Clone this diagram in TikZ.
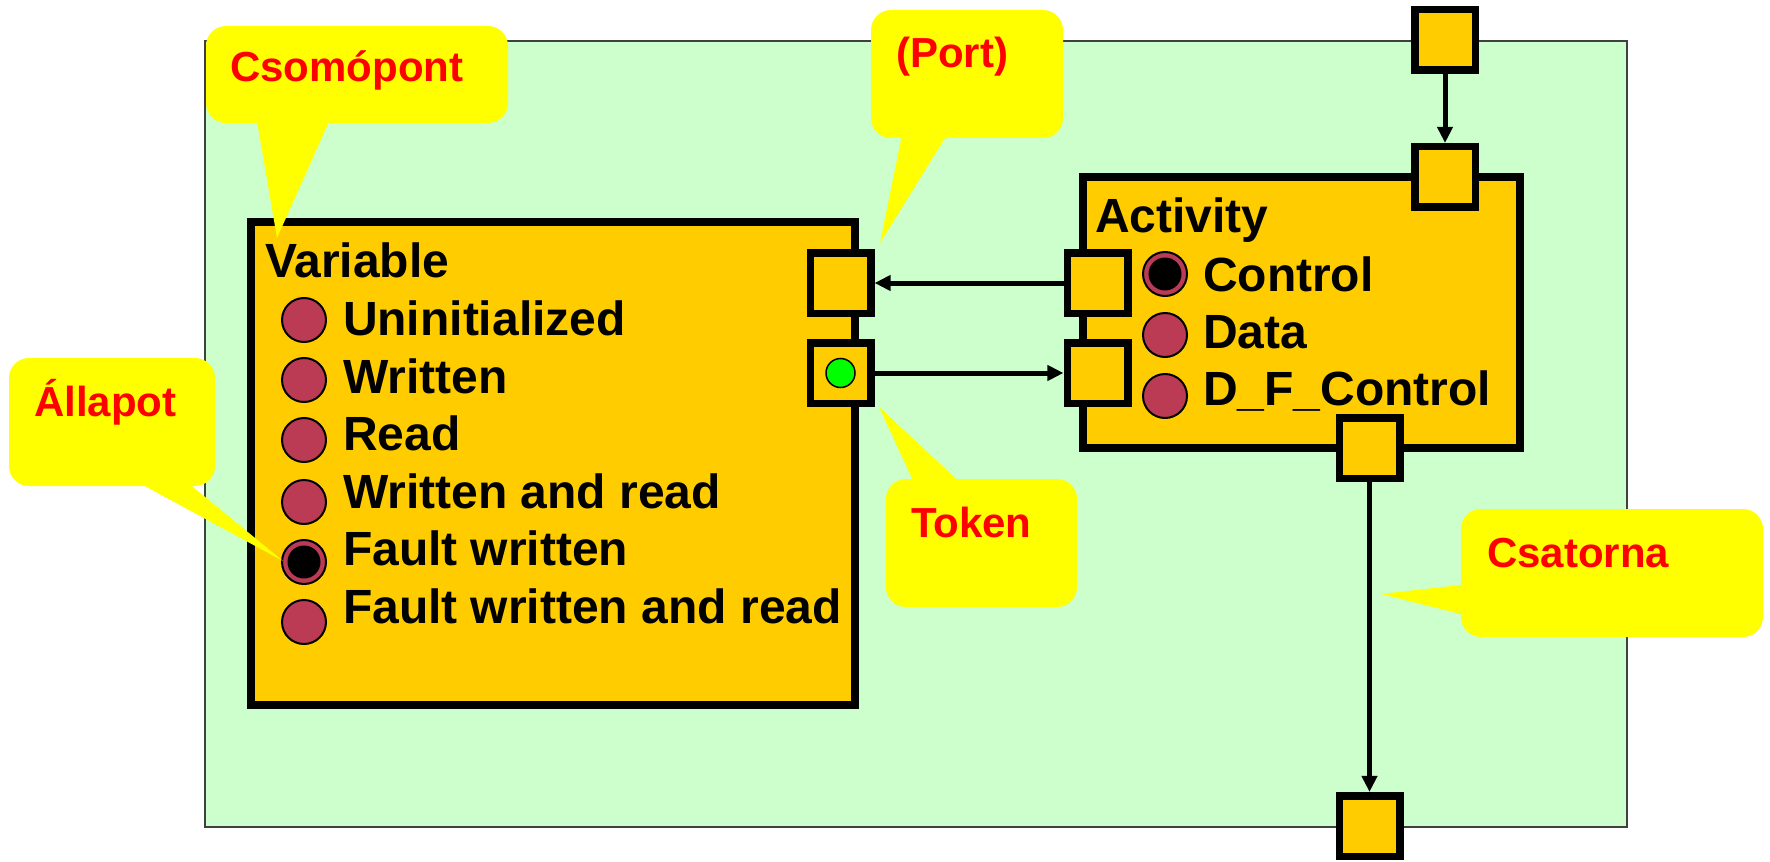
\documentclass[tikz,border=0pt]{standalone}
\usepackage{fontspec}
\setmainfont{Liberation Sans}
\usetikzlibrary{arrows.meta}
\definecolor{bg}{HTML}{CCFFCC}
\definecolor{boxc}{HTML}{FFCC00}
\definecolor{stc}{HTML}{BB3B55}
\definecolor{callc}{HTML}{FFFF00}
\definecolor{ctext}{HTML}{FF0000}
\definecolor{tokc}{HTML}{00FF00}
\begin{document}
\begin{tikzpicture}[x=0.5pt,y=-0.5pt,
  every node/.style={inner sep=0pt, outer sep=0pt},
  blockbox/.style={rectangle, draw=black, line width=3.75pt, fill=boxc},
  portbox/.style={rectangle, draw=black, line width=3.75pt, fill=boxc, minimum size=30.25pt},
  state/.style={circle, draw=black, line width=1pt, fill=stc, minimum size=22pt},
  active/.style={circle, fill=black, minimum size=16.5pt},
  tokenc/.style={circle, draw=black, line width=0.75pt, fill=tokc, minimum size=14.5pt},
  lbl/.style={anchor=base west, font=\bfseries\fontsize{24}{28}\selectfont},
  clbl/.style={anchor=base west, text=ctext, font=\bfseries\fontsize{21}{25}\selectfont},
  flow/.style={line width=2.5pt, -{Triangle[length=8pt,width=7.5pt]}, shorten >=1.9pt},
  bubble/.style={fill=callc, rounded corners=10pt},
  tail/.style={fill=callc},
]
\useasboundingbox (0,0) rectangle (1770,861);

% background
\draw[fill=bg, draw=black!75, line width=1pt] (205,41) rectangle (1627,827);

% Variable block
\node[blockbox, minimum width=302pt, minimum height=241.5pt] (var) at (553,463.5) {};
\node[lbl] (varT) at (265,278) {Variable};
\node[state] (s1) at (304,320) {};
\node[state] (s2) at (304,380) {};
\node[state] (s3) at (304,440) {};
\node[state] (s4) at (304,502) {};
\node[state] (s5) at (304,562) {};
\node[active] (s5a) at (304,562) {};
\node[state] (s6) at (304,622) {};
\node[lbl] (t1) at (343,335) {Uninitialized};
\node[lbl] (t2) at (343,393) {Written};
\node[lbl] (t3) at (343,450) {Read};
\node[lbl] (t4) at (343,508) {Written and read};
\node[lbl] (t5) at (343,565) {Fault written};
\node[lbl] (t6) at (343,623) {Fault written and read};
\node[portbox] (vp1) at (840.5,283) {};
\node[portbox] (vp2) at (840.5,373) {};
\node[tokenc] (tok) at (840.5,373) {};

% Activity block
\node[blockbox, minimum width=218.5pt, minimum height=135.5pt] (act) at (1301.5,312.5) {};
\node[lbl] (actT) at (1095,233) {Activity};
\node[state] (a1) at (1165,274) {};
\node[active] (a1a) at (1165,274) {};
\node[state] (a2) at (1165,335) {};
\node[state] (a3) at (1165,396) {};
\node[lbl] (u1) at (1203,291) {Control};
\node[lbl] (u2) at (1203,348) {Data};
\node[lbl] (u3) at (1203,405) {D\_F\_Control};
\node[portbox] (ap1) at (1097.5,283) {};
\node[portbox] (ap2) at (1097.5,373) {};
\node[portbox] (at) at (1445,177) {};
\node[portbox] (ab) at (1369.5,448) {};

% external ports
\node[portbox] (extT) at (1445,40) {};
\node[portbox] (extB) at (1369.5,826) {};

% connectors
\draw[flow] (ap1) -- (vp1);
\draw[flow] (vp2) -- (ap2);
\draw[flow] (extT) -- (at);
\draw[flow] (ab) -- (extB);

% callouts
\fill[bubble] (206,26) rectangle (508,123);
\fill[tail] (256,115) -- (277,238) -- (332,115) -- cycle;
\node[clbl] (c1) at (230,82) {Csomópont};

\fill[bubble] (871,10) rectangle (1063,138);
\fill[tail] (903,130) -- (880,243) -- (950,130) -- cycle;
\node[clbl] (c2) at (896,68) {(Port)};

\fill[bubble] (9,358) rectangle (215,486);
\fill[tail] (130,478) -- (283,561) -- (182,478) -- cycle;
\node[clbl] (c3) at (34,416) {Állapot};

\fill[bubble] (886,479) rectangle (1077,607);
\fill[tail] (916,487) -- (879,407) -- (965,487) -- cycle;
\node[clbl] (c4) at (911,537) {Token};

\fill[bubble] (1461,509) rectangle (1763,637);
\fill[tail] (1469,584) -- (1381,594) -- (1469,616) -- cycle;
\node[clbl] (c5) at (1487,567) {Csatorna};
\end{tikzpicture}
\end{document}
